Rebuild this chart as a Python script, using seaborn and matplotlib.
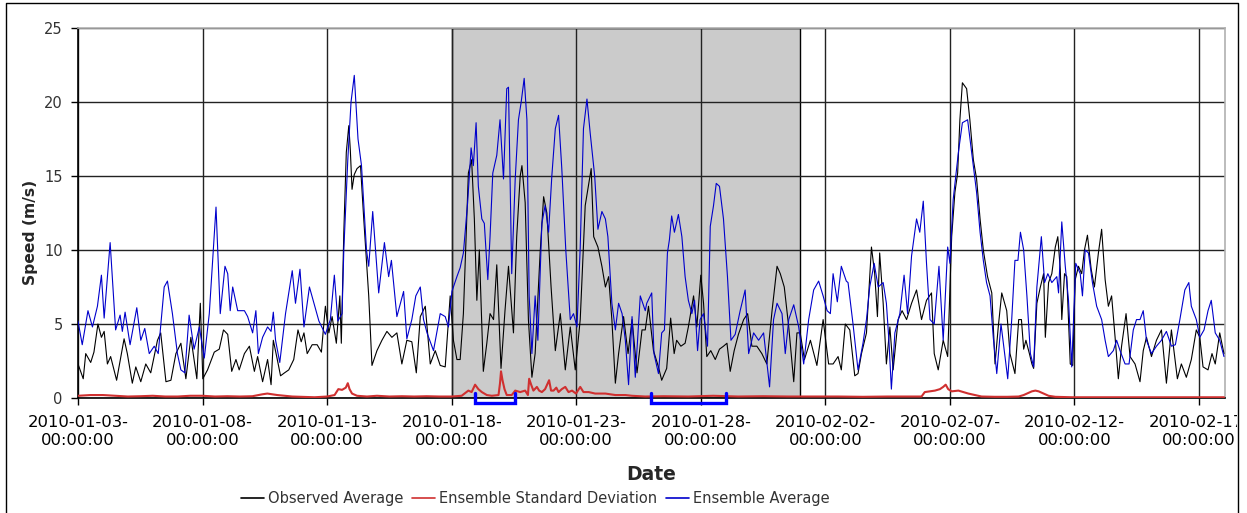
import numpy as np
import pandas as pd
import matplotlib
matplotlib.use("Agg")
import matplotlib.pyplot as plt
import seaborn as sns
from matplotlib.lines import Line2D
from matplotlib.transforms import Bbox, TransformedBbox

# ---------------- data (days since 2010-01-03 00:00, speed in m/s) ----------------
START = "2010-01-03"

obs_days = [0.00, 0.21, 0.31, 0.51, 0.64, 0.80, 0.94, 1.05, 1.18, 1.31, 1.55, 1.85, 1.98, 2.18, 2.32,
            2.52, 2.72, 2.92, 3.19, 3.32, 3.53, 3.73, 3.93, 4.13, 4.33, 4.53, 4.77, 4.91, 5.01, 5.20,
            5.47, 5.67, 5.84, 6.01, 6.17, 6.34, 6.47, 6.68, 6.88, 7.08, 7.21, 7.41, 7.61, 7.75,
            7.84, 8.00, 8.13, 8.29, 8.46, 8.66, 8.83, 8.96, 9.07, 9.20, 9.40, 9.60, 9.77, 9.93, 10.07,
            10.20, 10.37, 10.51, 10.57, 10.67, 10.77, 10.87, 10.93, 11.00, 11.09, 11.20, 11.34, 11.47,
            11.58, 11.67, 11.80, 12.00, 12.20, 12.40, 12.60, 12.80, 13.00, 13.20, 13.40, 13.58, 13.74,
            13.94, 14.14, 14.34, 14.54, 14.74, 14.94, 15.07, 15.21, 15.34,
            15.47, 15.67, 15.80, 15.91, 16.01, 16.11, 16.27, 16.41, 16.54, 16.68, 16.81, 16.98, 17.14,
            17.28, 17.48, 17.61, 17.75, 17.82, 17.95, 18.08, 18.22, 18.35, 18.55, 18.69, 18.82, 18.99,
            19.16, 19.36, 19.56, 19.76, 19.96, 20.16, 20.36, 20.60, 20.70, 20.87, 21.03, 21.17, 21.30,
            21.43, 21.57, 21.70, 21.90, 22.08, 22.24, 22.44, 22.64, 22.77,
            22.90, 23.10, 23.30, 23.43, 23.63, 23.79, 23.93, 24.03, 24.20, 24.37, 24.50, 24.71, 24.84,
            25.00, 25.11, 25.24, 25.40, 25.58, 25.75, 25.91, 26.05, 26.18, 26.34, 26.51, 26.72, 26.88,
            27.05, 27.25, 27.45, 27.65, 27.86, 28.06, 28.19, 28.35, 28.53, 28.73, 28.86, 28.99, 29.16,
            29.40, 29.66, 29.91, 30.13,
            30.31, 30.51, 30.64, 30.80, 30.98, 31.18, 31.31, 31.45, 31.65, 31.85, 31.98, 32.09, 32.18,
            32.32, 32.45, 32.59, 32.72, 32.92, 33.08, 33.26, 33.46, 33.66, 33.86, 34.06, 34.26, 34.37,
            34.53, 34.73, 34.91, 35.07, 35.20, 35.31, 35.40, 35.50, 35.67, 35.80, 35.94, 36.07, 36.21,
            36.34, 36.51, 36.68, 36.81, 36.94, 37.08, 37.28, 37.41, 37.61,
            37.76, 37.87, 37.96, 38.05, 38.19, 38.29, 38.36, 38.49, 38.63, 38.76, 38.83, 38.96, 39.09,
            39.23, 39.33, 39.43, 39.49, 39.60, 39.69, 39.83, 39.93, 40.03, 40.16, 40.29, 40.40, 40.52,
            40.67, 40.80, 40.96, 41.09, 41.23, 41.36, 41.49, 41.63, 41.76, 41.89, 42.07, 42.23, 42.43,
            42.63, 42.76, 42.89, 43.09, 43.29, 43.49, 43.69, 43.89, 44.13, 44.29, 44.49, 44.69, 44.89,
            45.03, 45.16, 45.36, 45.52, 45.65, 45.83, 46.00]
obs_speed = [2.3, 1.3, 3.0, 2.4, 3.1, 5.0, 4.1, 4.5, 2.3, 2.8, 1.2, 4.0, 3.0, 1.0, 2.1,
             1.1, 2.3, 1.7, 3.9, 4.4, 1.1, 1.2, 3.0, 3.7, 1.3, 4.1, 1.3, 6.4, 1.3, 1.9,
             3.1, 3.3, 4.6, 4.3, 1.8, 2.6, 1.9, 3.0, 3.5, 1.8, 2.8, 1.1, 2.6, 0.9,
             3.9, 2.6, 1.5, 1.7, 1.9, 2.6, 4.6, 3.8, 4.4, 3.0, 3.6, 3.6, 3.1, 6.2, 4.4,
             5.5, 3.7, 6.9, 3.7, 11.2, 16.6, 18.4, 16.8, 14.1, 15.1, 15.5, 15.7, 12.1,
             9.3, 6.9, 2.2, 3.2, 3.9, 4.5, 4.1, 4.4, 2.3, 3.9, 3.8, 1.7, 5.5,
             6.2, 2.3, 3.2, 2.2, 2.1, 6.9, 3.9, 2.6, 2.6,
             5.7, 15.2, 16.1, 12.1, 6.6, 10.0, 1.8, 3.7, 5.7, 5.3, 9.0, 2.0, 5.9,
             8.9, 4.4, 10.9, 15.0, 15.7, 13.2, 5.3, 1.4, 3.0, 9.8, 13.6, 12.5, 7.5,
             3.2, 5.7, 1.9, 4.8, 1.9, 5.3, 13.0, 15.5, 10.9, 10.2, 8.9, 7.5, 8.2,
             5.3, 1.0, 3.0, 5.5, 3.0, 5.3, 1.7, 4.6, 4.6,
             6.2, 3.2, 2.1, 1.2, 2.0, 5.4, 3.0, 3.9, 3.5, 3.7, 4.8, 6.9, 4.8,
             8.3, 6.4, 2.8, 3.2, 2.6, 3.3, 3.5, 3.7, 1.8, 3.2, 4.3, 5.3, 5.7,
             3.5, 3.5, 3.0, 2.3, 5.9, 8.9, 8.4, 7.5, 4.8, 1.1, 4.4, 4.4, 2.6,
             3.9, 2.2, 5.3, 2.3,
             2.3, 2.8, 1.9, 5.0, 4.6, 1.5, 1.65, 3.0, 4.4, 10.2, 8.4, 5.5, 9.8,
             6.4, 2.3, 4.8, 1.9, 5.3, 5.9, 5.3, 6.4, 7.3, 5.3, 6.6, 7.1, 3.0,
             1.9, 3.9, 2.8, 10.9, 13.9, 15.2, 18.8, 21.3, 20.9, 18.8, 16.1, 14.8, 12.1,
             10.0, 8.2, 7.1, 2.3, 4.8, 7.1, 5.9, 3.0, 1.65,
             5.3, 5.3, 3.3, 3.9, 3.0, 2.3, 2.0, 6.4, 7.5, 8.4, 4.1, 7.8, 8.4,
             10.2, 10.9, 8.7, 5.3, 8.4, 8.2, 2.3, 2.2, 8.0, 8.9, 8.4, 10.0, 11.0,
             8.7, 7.5, 9.8, 11.4, 8.0, 6.2, 6.9, 4.1, 1.3, 3.5, 5.7, 2.8, 2.3,
             1.1, 3.2, 4.1, 2.8, 3.9, 4.6, 1.0, 4.6, 1.3, 2.3, 1.4, 2.6, 4.6,
             4.1, 2.1, 1.9, 3.0, 2.3, 4.4, 3.0]

ens_days = [0.00, 0.17, 0.40, 0.58, 0.78, 0.94, 1.05, 1.29, 1.51, 1.69, 1.78, 1.89, 2.09, 2.36, 2.52,
            2.68, 2.86, 3.06, 3.22, 3.46, 3.59, 3.79, 3.99, 4.13, 4.29, 4.46, 4.66, 4.87, 5.07, 5.27,
            5.54, 5.71, 5.90, 6.01, 6.11, 6.21, 6.41, 6.68, 6.81, 7.01, 7.14, 7.24, 7.41, 7.61, 7.75,
            7.84, 7.93, 8.10, 8.33, 8.60, 8.73, 8.91, 9.07, 9.29, 9.47, 9.67, 9.93, 10.13, 10.29, 10.43,
            10.60, 10.67, 10.83, 10.96, 11.09, 11.24, 11.38, 11.58, 11.67, 11.83, 12.07, 12.30, 12.47,
            12.58, 12.80, 13.07, 13.20, 13.40, 13.56, 13.74, 13.87, 14.01, 14.27, 14.54, 14.74, 14.87,
            15.01, 15.21, 15.34,
            15.47, 15.64, 15.78, 15.87, 15.98, 16.07, 16.21, 16.31, 16.45, 16.54, 16.65, 16.81, 16.94,
            17.08, 17.21, 17.28, 17.41, 17.55, 17.68, 17.79, 17.91, 18.02, 18.11, 18.22, 18.35, 18.46,
            18.62, 18.75, 18.89, 19.02, 19.16, 19.29, 19.42, 19.58, 19.76, 19.89, 20.03, 20.16, 20.29,
            20.43, 20.56, 20.74, 20.87, 21.03, 21.17, 21.27, 21.43, 21.57, 21.70, 21.84, 21.97, 22.10,
            22.24, 22.37, 22.57, 22.77,
            22.83, 23.03, 23.12, 23.30, 23.43, 23.54, 23.66, 23.74, 23.83, 23.94, 24.10, 24.24, 24.37,
            24.50, 24.64, 24.75, 24.87, 24.97, 25.11, 25.27, 25.38, 25.51, 25.62, 25.75, 25.91, 26.07,
            26.21, 26.38, 26.58, 26.78, 26.92, 27.12, 27.32, 27.52, 27.76, 27.92, 28.06, 28.26, 28.39,
            28.53, 28.73, 28.93, 29.13, 29.33, 29.53, 29.73, 29.91, 30.07, 30.20,
            30.31, 30.48, 30.64, 30.84, 30.91, 31.11, 31.31, 31.51, 31.65, 31.78, 31.96, 32.12, 32.32,
            32.45, 32.55, 32.65, 32.79, 32.99, 33.16, 33.30, 33.46, 33.66, 33.79, 33.93, 34.06, 34.20,
            34.37, 34.56, 34.73, 34.91, 35.00, 35.13, 35.34, 35.50, 35.71, 35.87, 36.07, 36.21, 36.34,
            36.47, 36.61, 36.74, 36.88, 37.05, 37.18, 37.32, 37.48, 37.61,
            37.73, 37.83, 37.96, 38.09, 38.23, 38.36, 38.49, 38.67, 38.80, 38.93, 39.09, 39.29, 39.36,
            39.49, 39.63, 39.76, 39.89, 40.05, 40.23, 40.32, 40.43, 40.56, 40.72, 40.89, 41.09, 41.23,
            41.36, 41.56, 41.69, 41.83, 42.03, 42.19, 42.36, 42.49, 42.63, 42.76, 42.89, 43.09, 43.29,
            43.49, 43.69, 43.89, 44.05, 44.23, 44.43, 44.59, 44.69, 44.89, 45.03, 45.20, 45.36, 45.49,
            45.65, 45.83, 46.00]
ens_speed = [5.2, 3.6, 5.9, 4.8, 6.2, 8.3, 5.4, 10.5, 4.6, 5.6, 4.5, 5.8, 3.6, 6.1, 3.9,
             4.7, 3.0, 3.5, 3.0, 7.5, 7.9, 5.7, 3.0, 1.9, 1.7, 5.6, 3.3, 4.8, 2.7, 5.7,
             12.9, 5.7, 8.9, 8.4, 5.9, 7.5, 5.9, 5.9, 5.5, 4.4, 5.9, 3.0, 4.1, 4.8, 4.5,
             5.8, 3.9, 2.4, 5.7, 8.6, 6.4, 8.7, 4.8, 7.5, 6.4, 5.2, 4.3, 5.3, 8.3, 5.2,
             5.7, 10.0, 16.1, 20.0, 21.8, 17.5, 15.7, 10.0, 8.9, 12.6, 7.1, 10.5, 8.2,
             9.3, 5.5, 7.2, 4.0, 5.3, 6.9, 7.5, 5.3, 4.4, 3.2, 5.7, 5.5, 4.8,
             7.2, 8.2, 8.8,
             9.8, 13.2, 16.9, 15.7, 18.6, 14.3, 12.1, 11.8, 8.0, 10.9, 15.2, 16.4, 18.8,
             14.8, 20.9, 21.0, 8.4, 14.8, 18.8, 20.0, 21.6, 18.8, 6.9, 3.0, 6.9, 3.9,
             11.8, 13.0, 11.2, 15.0, 18.2, 19.1, 15.5, 10.0, 5.3, 5.7, 4.8, 10.2, 18.2,
             20.2, 17.9, 15.0, 11.4, 12.6, 12.1, 10.9, 6.4, 4.6, 6.4, 5.7, 3.9, 0.9,
             5.5, 1.4, 6.9, 5.9,
             6.4, 7.1, 3.0, 1.65, 4.4, 4.6, 9.8, 10.7, 12.3, 11.2, 12.4, 10.9, 8.2,
             6.6, 5.7, 6.6, 3.2, 5.3, 5.7, 3.5, 11.6, 13.0, 14.5, 14.3, 12.1, 8.2,
             3.9, 4.3, 5.9, 7.3, 3.0, 4.4, 3.9, 4.4, 0.75, 5.3, 6.4, 5.7, 3.0,
             5.3, 6.3, 4.8, 2.3, 5.3, 7.3, 7.9, 6.9, 5.9, 5.7,
             8.4, 6.5, 8.9, 7.9, 7.8, 5.0, 1.9, 3.7, 5.3, 7.5, 9.1, 7.5, 7.8,
             6.4, 3.9, 0.6, 4.4, 5.7, 8.3, 5.7, 9.6, 12.1, 11.2, 13.3, 9.1, 5.3,
             5.0, 8.9, 3.9, 10.2, 9.1, 13.4, 16.6, 18.6, 18.8, 16.6, 13.9, 11.2, 9.3,
             7.8, 6.9, 4.1, 1.65, 5.0, 3.2, 1.3, 5.3, 9.3,
             9.3, 11.2, 10.0, 6.9, 3.0, 2.1, 7.5, 10.9, 7.8, 8.4, 7.8, 8.2, 7.1,
             11.9, 8.9, 6.6, 2.1, 9.1, 8.4, 6.9, 10.0, 9.8, 7.8, 6.2, 5.3, 3.9,
             2.8, 3.2, 3.9, 3.2, 2.3, 2.3, 4.6, 5.3, 5.3, 5.9, 3.9, 3.0, 3.5,
             3.9, 4.5, 3.5, 3.6, 5.3, 7.3, 7.8, 6.2, 5.3, 4.1, 4.6, 5.9, 6.6,
             4.4, 3.9, 2.8]

std_days = [0.0, 0.5, 1.0, 1.5, 2.0, 2.5, 3.0, 3.5, 4.0, 4.5, 5.0, 5.5, 6.0, 6.5, 7.0, 7.4, 7.6,
            7.8, 8.0, 8.3, 8.6, 9.0, 9.5, 10.0, 10.3, 10.45, 10.6, 10.75, 10.83, 10.9, 11.0, 11.2,
            11.6, 12.0, 12.5, 13.0, 13.5, 14.0, 14.5, 15.0, 15.40, 15.67, 15.80, 15.94, 16.07,
            16.21, 16.41, 16.61, 16.88, 16.94, 16.98, 17.04, 17.12, 17.21, 17.41, 17.55, 17.75,
            17.95, 18.06, 18.11, 18.19, 18.28, 18.42, 18.51, 18.62, 18.75, 18.91, 18.99, 19.09,
            19.20, 19.29, 19.42, 19.56, 19.69, 19.83, 19.99, 20.16, 20.29, 20.50, 20.76, 21.17,
            21.57, 21.97, 22.24, 22.77, 23.5, 24.5, 25.5, 26.5, 27.5, 28.5, 29.5, 30.5, 31.5,
            32.5, 33.3, 33.86, 33.99, 34.20, 34.40, 34.60, 34.73, 34.83, 34.93, 35.07, 35.34,
            35.54, 35.74, 36.00, 36.27, 36.8, 37.3, 37.76, 37.96, 38.09, 38.29, 38.43, 38.56,
            38.76, 38.96, 39.23, 39.9, 40.5, 41.5, 42.5, 43.5, 44.5, 45.5, 46.0]
std_speed = [0.15, 0.2, 0.2, 0.15, 0.1, 0.12, 0.15, 0.1, 0.1, 0.15, 0.15, 0.1, 0.12, 0.1, 0.12, 0.25, 0.3,
             0.25, 0.2, 0.15, 0.1, 0.08, 0.05, 0.1, 0.2, 0.6, 0.55, 0.7, 1.0, 0.6, 0.3, 0.15,
             0.1, 0.15, 0.1, 0.12, 0.1, 0.12, 0.1, 0.1, 0.15, 0.5, 0.4, 0.9, 0.6,
             0.4, 0.2, 0.15, 0.2, 1.0, 1.8, 1.2, 0.6, 0.2, 0.2, 0.5, 0.4,
             0.5, 0.2, 1.3, 0.9, 0.5, 0.75, 0.5, 0.4, 0.6, 1.2, 0.5, 0.5,
             0.7, 0.4, 0.6, 0.75, 0.4, 0.5, 0.3, 0.75, 0.4, 0.4, 0.3, 0.3,
             0.2, 0.2, 0.15, 0.1, 0.12, 0.1, 0.15, 0.1, 0.12, 0.1, 0.1, 0.1, 0.08,
             0.1, 0.1, 0.1, 0.4, 0.45, 0.5, 0.6, 0.75, 0.9, 0.6, 0.45, 0.5,
             0.4, 0.3, 0.2, 0.1, 0.08, 0.08, 0.1, 0.2, 0.3, 0.45, 0.5, 0.45,
             0.3, 0.15, 0.08, 0.05, 0.05, 0.05, 0.05, 0.05, 0.05, 0.05, 0.05]

# shaded period and bracket annotations (dates)
shade_period = ["2010-01-18", "2010-02-01"]
bracket_starts = ["2010-01-18 22:30", "2010-01-26 00:00"]
bracket_ends = ["2010-01-20 13:00", "2010-01-29 00:00"]

# x ticks
tick_dates = ["2010-01-03", "2010-01-08", "2010-01-13", "2010-01-18", "2010-01-23",
              "2010-01-28", "2010-02-02", "2010-02-07", "2010-02-12", "2010-02-17"]
x_limits = ["2010-01-03 00:00", "2010-02-18 01:00"]
y_ticks = [0, 5, 10, 15, 20, 25]

series_names = ["Observed Average", "Ensemble Standard Deviation", "Ensemble Average"]
series_colors = ["#000000", "#d03030", "#0000cc"]

# ---------------- build frames ----------------
base = pd.Timestamp(START)
def to_frame(days, vals):
    return pd.DataFrame({"time": base + pd.to_timedelta(np.asarray(days), unit="D"),
                         "speed": vals})

df_obs = to_frame(obs_days, obs_speed)
df_std = to_frame(std_days, std_speed)
df_ens = to_frame(ens_days, ens_speed)

# ---------------- plot ----------------
sns.set_style("white")
plt.rcParams["font.family"] = ["DejaVu Sans"]

W, H = 1247, 513
fig = plt.figure(figsize=(W / 100, H / 100), dpi=100)
ax = fig.add_axes([78 / W, 1 - 398 / H, (1225 - 78) / W, (398 - 28) / H])

ax.axvspan(pd.Timestamp(shade_period[0]), pd.Timestamp(shade_period[1]),
           facecolor="#cbcbcb", edgecolor="black", lw=1.0, zorder=1)

sns.lineplot(data=df_obs, x="time", y="speed", ax=ax, color=series_colors[0], lw=0.8,
             label=series_names[0], zorder=3)
sns.lineplot(data=df_std, x="time", y="speed", ax=ax, color=series_colors[1], lw=1.5,
             label=series_names[1], zorder=3.5)
sns.lineplot(data=df_ens, x="time", y="speed", ax=ax, color=series_colors[2], lw=0.8,
             label=series_names[2], zorder=4)

for s, e in zip(bracket_starts, bracket_ends):
    s, e = pd.Timestamp(s), pd.Timestamp(e)
    ax.plot([s, s, e, e], [0.35, -0.35, -0.35, 0.35], color="#0000ff", lw=2.4,
            clip_on=False, zorder=6, solid_joinstyle="miter")

ax.set_xlim(pd.Timestamp(x_limits[0]), pd.Timestamp(x_limits[1]))
ax.set_ylim(0, 25)
ax.set_yticks(y_ticks)
ax.set_yticklabels([str(v) for v in y_ticks])
ticks = [pd.Timestamp(t) for t in tick_dates]
ax.set_xticks(ticks)
ax.set_xticklabels([t.strftime("%Y-%m-%d-\n%H:%M:%S") for t in ticks], linespacing=1.25)

ax.set_axisbelow("line")
ax.grid(True, color="#222222", lw=1.0)
ax.tick_params(axis="x", length=5, width=1, color="black", labelsize=11.8, pad=7.5,
               labelcolor="black", bottom=True)
ax.tick_params(axis="y", length=5, width=1, color="black", labelsize=10.5, pad=6,
               labelcolor="#333333", left=True)
for side in ["left", "bottom"]:
    ax.spines[side].set_color("black")
    ax.spines[side].set_linewidth(1.2)
for side in ["top", "right"]:
    ax.spines[side].set_color("#b0b0b0")
    ax.spines[side].set_linewidth(1.2)

# the last tick label is hidden behind the chart frame in the original
clip_box = TransformedBbox(Bbox([[0, 0], [1237 / W, 1]]), fig.transFigure)
for lbl in ax.get_xticklabels():
    lbl.set_clip_on(True)
    lbl.set_clip_box(clip_box)

ax.set_xlabel("")
ax.set_ylabel("")
fig.text(30 / W, 1 - 232 / H, "Speed (m/s)", rotation=90, ha="center", va="center",
         fontsize=11.2, fontweight="bold")
fig.text(651 / W, 1 - 475 / H, "Date", ha="center", va="center",
         fontsize=13.5, fontweight="bold")

handles, labels = ax.get_legend_handles_labels()
if ax.legend_:
    ax.legend_.remove()
leg = fig.legend(handles, labels, loc="center", bbox_to_anchor=(535 / W, 1 - 498.5 / H),
                 bbox_transform=fig.transFigure, ncol=3, frameon=False, fontsize=10.5,
                 handlelength=1.6, handletextpad=0.25, columnspacing=0.6)
for t in leg.get_texts():
    t.set_color("#333333")
for h in leg.legend_handles:
    h.set_linewidth(1.2)

# outer chart frame
fig.add_artist(Line2D([6 / W, 6 / W, 1238 / W, 1238 / W], [0, 1 - 3 / H, 1 - 3 / H, 0],
                      transform=fig.transFigure, color="black", lw=1.0))

fig.savefig("out.png", dpi=100)
